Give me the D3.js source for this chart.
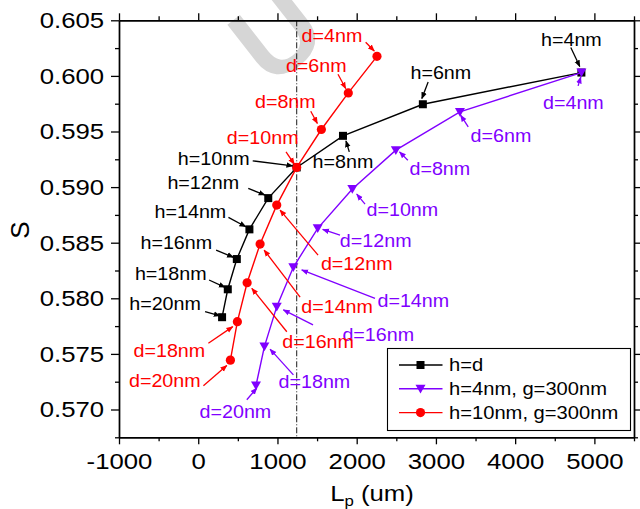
<!DOCTYPE html>
<html>
<head>
<meta charset="utf-8">
<script src="https://cdn.jsdelivr.net/npm/d3@7"></script>
<style>
  body { margin: 0; background: #fff; }
  svg text { font-family: "Liberation Sans", Arial, sans-serif; }
</style>
</head>
<body>
<div id="chart"></div>
<script>
// series values (Lp in um, S dimensionless)
var sizesNm = [4, 6, 8, 10, 12, 14, 16, 18, 20];
var lpHd  = [4836, 2835, 1827, 1243, 884, 646, 487, 373, 301];
var sHd   = [0.6003, 0.59745, 0.59461, 0.59177, 0.58901, 0.5862, 0.58353, 0.58081, 0.5783];
var lpH4  = [4836, 3303, 2494, 1945, 1508, 1200, 991, 835, 729];
var sH4   = [0.6003, 0.59676, 0.59332, 0.58982, 0.58629, 0.58279, 0.57925, 0.57566, 0.57216];
var lpH10 = [2256, 1894, 1554, 1243, 991, 781, 617, 494, 406];
var sH10  = [0.60176, 0.59847, 0.59518, 0.59177, 0.58838, 0.58488, 0.5814, 0.5779, 0.57444];
var legendLabels = ["h=d", "h=4nm, g=300nm", "h=10nm, g=300nm"];
var xTicks = [-1000, 0, 1000, 2000, 3000, 4000, 5000];
var yTicks = [0.570, 0.575, 0.580, 0.585, 0.590, 0.595, 0.600, 0.605];
var refLp = 1243;

// label layout: [labelDx, labelDy(baseline), tailDx, tailDy, headDx, headDy] relative to the point
var offHd = [[-10,-27,-10.6,-25,-1.6,-6],[18,-25,5.3,-22.3,-1,-5.7],[0,32,6.3,16,3,5],
  [-83,-2,-44,-6.6,-4,-1.6],[-65,-9,-20,-9.7,-3.3,-3],[-59,-11,-21,-12,-3.6,-2.6],
  [-60.5,-10,-20.7,-9,-3.4,-1.7],[-57,-9,-18.7,-9.3,-2.7,-2],[-57,-7,-17,-5.6,-2,-1.3]];
var offH4 = [[-8,36,-3.3,13.3,-0.6,4.5],[41,30,8.3,15,0.7,3.3],[44,25,12,10,3.7,1.7],
  [50,27,12.7,15,4.4,5],[58,19,22.3,6.7,5,1],[120,40,81.7,31,8.4,2.7],
  [101.5,34,36.3,18.3,6.6,3.3],[50,41,29,28.3,5.7,2.6],[-20.6,33,-9.2,14.3,0.8,2.6]];
var offH10 = [[-45,-14,-11.3,-14,-2.7,-5.3],[-32,-21,-10.3,-18.7,-2.6,-4.4],[-36,-21,-10.6,-18.3,-4,-6],
  [-34,-23,-10.7,-15.6,-2.4,-3.3],[80,65,41.3,50,3.3,5],[77,69,40,53,4,6],
  [71,65,39.7,49,4.7,5.6],[-68,35,-29,21.6,-4.6,5],[-65.6,27,-27,25.7,-3.6,5.4]];

var W = 640, H = 509;
var plotLeft = 119, plotRight = 634, plotTop = 20.3, plotBottom = 437.3;
var stretch = 1.12;

var svg = d3.select("#chart").append("svg")
    .attr("width", W).attr("height", H);

// watermark
svg.append("text")
    .attr("transform", "translate(300,64) rotate(-38)")
    .attr("text-anchor", "middle")
    .attr("font-size", 110).attr("font-weight", "bold")
    .attr("fill", "#d6d6d6")
    .text("U");

var x = d3.scaleLinear().domain([-1000, 5500]).range([plotLeft, plotRight]);
var y = d3.scaleLinear().domain([0.5675, 0.605]).range([plotBottom, plotTop]);

var xMinor = d3.range(-500, 5501, 1000);
var yMinor = [0.5675, 0.5725, 0.5775, 0.5825, 0.5875, 0.5925, 0.5975, 0.6025];

function styleAxis(g) {
  g.select(".domain").attr("stroke-width", 1.4);
  g.selectAll(".tick line").attr("stroke-width", 1.3);
}
function styleLabels(g) {
  g.selectAll("text").attr("font-size", 23).attr("fill", "#000")
    .attr("font-family", "Liberation Sans, Arial, sans-serif")
    .attr("transform", "scale(" + stretch + ",1)");
}

// bottom
svg.append("g").attr("transform", "translate(0," + plotBottom + ")")
  .call(d3.axisBottom(x).tickValues(xMinor).tickSize(4).tickFormat("").tickSizeOuter(0)).call(styleAxis);
svg.append("g").attr("transform", "translate(0," + plotBottom + ")")
  .call(d3.axisBottom(x).tickValues(xTicks).tickSize(7).tickPadding(8.5).tickSizeOuter(0)
    .tickFormat(function(d) { return String(d); }))
  .call(styleAxis).call(styleLabels);
// top
svg.append("g").attr("transform", "translate(0," + plotTop + ")")
  .call(d3.axisTop(x).tickValues(xMinor).tickSize(4).tickFormat("").tickSizeOuter(0)).call(styleAxis);
svg.append("g").attr("transform", "translate(0," + plotTop + ")")
  .call(d3.axisTop(x).tickValues(xTicks).tickSize(7).tickFormat("").tickSizeOuter(0)).call(styleAxis);
// left
svg.append("g").attr("transform", "translate(" + plotLeft + ",0)")
  .call(d3.axisLeft(y).tickValues(yMinor).tickSize(4).tickFormat("").tickSizeOuter(0)).call(styleAxis);
svg.append("g").attr("transform", "translate(" + plotLeft + ",0)")
  .call(d3.axisLeft(y).tickValues(yTicks).tickSize(8).tickPadding(5.3).tickSizeOuter(0).tickFormat(d3.format(".3f")))
  .call(styleAxis).call(styleLabels);
// right
svg.append("g").attr("transform", "translate(" + plotRight + ",0)")
  .call(d3.axisRight(y).tickValues(yMinor).tickSize(4).tickFormat("").tickSizeOuter(0)).call(styleAxis);
svg.append("g").attr("transform", "translate(" + plotRight + ",0)")
  .call(d3.axisRight(y).tickValues(yTicks).tickSize(8).tickFormat("").tickSizeOuter(0)).call(styleAxis);

// axis titles
svg.append("text")
    .attr("transform", "translate(29,230) rotate(-90)")
    .attr("text-anchor", "middle").attr("font-size", 26)
    .text("S");
var xt = svg.append("text")
    .attr("transform", "translate(372,501) scale(" + stretch + ",1)")
    .attr("text-anchor", "middle").attr("font-size", 23);
xt.append("tspan").text("L");
xt.append("tspan").attr("font-size", 15).attr("dy", 5).text("p");
xt.append("tspan").attr("dy", -5).text(" (um)");

// vertical dash-dot reference line
svg.append("line")
    .attr("x1", x(refLp)).attr("x2", x(refLp))
    .attr("y1", plotTop).attr("y2", plotBottom)
    .attr("stroke", "#000").attr("stroke-width", 0.9)
    .attr("stroke-dasharray", "6,2,1,2");

// arrowheads
var defs = svg.append("defs");
[["black", "#000"], ["violet", "#8000ff"], ["red", "#ff0000"]].forEach(function(c) {
  defs.append("marker").attr("id", "arr-" + c[0])
    .attr("viewBox", "0 0 10 10").attr("refX", 9).attr("refY", 5)
    .attr("markerWidth", 7).attr("markerHeight", 7).attr("markerUnits", "userSpaceOnUse")
    .attr("orient", "auto")
    .append("path").attr("d", "M0,1 L10,5 L0,9 Z").attr("fill", c[1]);
});

function triangle(s) { return "M" + (-s) + "," + (-s * 0.8) + "L" + s + "," + (-s * 0.8) + "L0," + (s * 0.95) + "Z"; }

var series = [
  { lp: lpHd,  s: sHd,  color: "#000",    key: "black",  prefix: "h=", off: offHd,  shape: "square" },
  { lp: lpH4,  s: sH4,  color: "#8000ff", key: "violet", prefix: "d=", off: offH4,  shape: "tri" },
  { lp: lpH10, s: sH10, color: "#ff0000", key: "red",    prefix: "d=", off: offH10, shape: "circle" }
];

function drawMarker(g, shape, color, cx, cy) {
  if (shape === "square") {
    g.append("rect").attr("x", cx - 4).attr("y", cy - 4).attr("width", 8).attr("height", 8).attr("fill", color);
  } else if (shape === "circle") {
    g.append("circle").attr("cx", cx).attr("cy", cy).attr("r", 4.6).attr("fill", color);
  } else {
    g.append("path").attr("transform", "translate(" + cx + "," + cy + ")").attr("d", triangle(5)).attr("fill", color);
  }
}

series.forEach(function(sr) {
  var pts = sr.lp.map(function(v, i) { return [v, sr.s[i]]; });
  var g = svg.append("g");
  g.append("path").datum(pts)
    .attr("fill", "none").attr("stroke", sr.color).attr("stroke-width", 1.4)
    .attr("d", d3.line().x(function(d) { return x(d[0]); }).y(function(d) { return y(d[1]); }));
  pts.forEach(function(d) { drawMarker(g, sr.shape, sr.color, x(d[0]), y(d[1])); });
});

// annotations
series.forEach(function(sr) {
  var g = svg.append("g");
  sr.lp.forEach(function(v, i) {
    var px = x(v), py = y(sr.s[i]), o = sr.off[i];
    g.append("line")
      .attr("x1", px + o[2]).attr("y1", py + o[3])
      .attr("x2", px + o[4]).attr("y2", py + o[5])
      .attr("stroke", sr.color).attr("stroke-width", 1.3)
      .attr("marker-end", "url(#arr-" + sr.key + ")");
    g.append("text")
      .attr("transform", "translate(" + (px + o[0]) + "," + (py + o[1]) + ") scale(" + stretch + ",1)")
      .attr("text-anchor", "middle").attr("font-size", 17.6).attr("fill", sr.color)
      .text(sr.prefix + sizesNm[i] + "nm");
  });
});

// legend
var lg = svg.append("g");
lg.append("rect").attr("x", 387.5).attr("y", 348.5).attr("width", 243).attr("height", 82)
  .attr("fill", "#fff").attr("stroke", "#000").attr("stroke-width", 1.1);
series.forEach(function(sr, i) {
  var ry = 365 + i * 23.8;
  lg.append("line").attr("x1", 399).attr("x2", 442.5).attr("y1", ry).attr("y2", ry)
    .attr("stroke", sr.color).attr("stroke-width", 1.4);
  drawMarker(lg, sr.shape, sr.color, 420.5, ry);
  lg.append("text")
    .attr("transform", "translate(449," + (ry + 6) + ") scale(" + stretch + ",1)")
    .attr("font-size", 18).attr("fill", "#000")
    .text(legendLabels[i]);
});
</script>
</body>
</html>
